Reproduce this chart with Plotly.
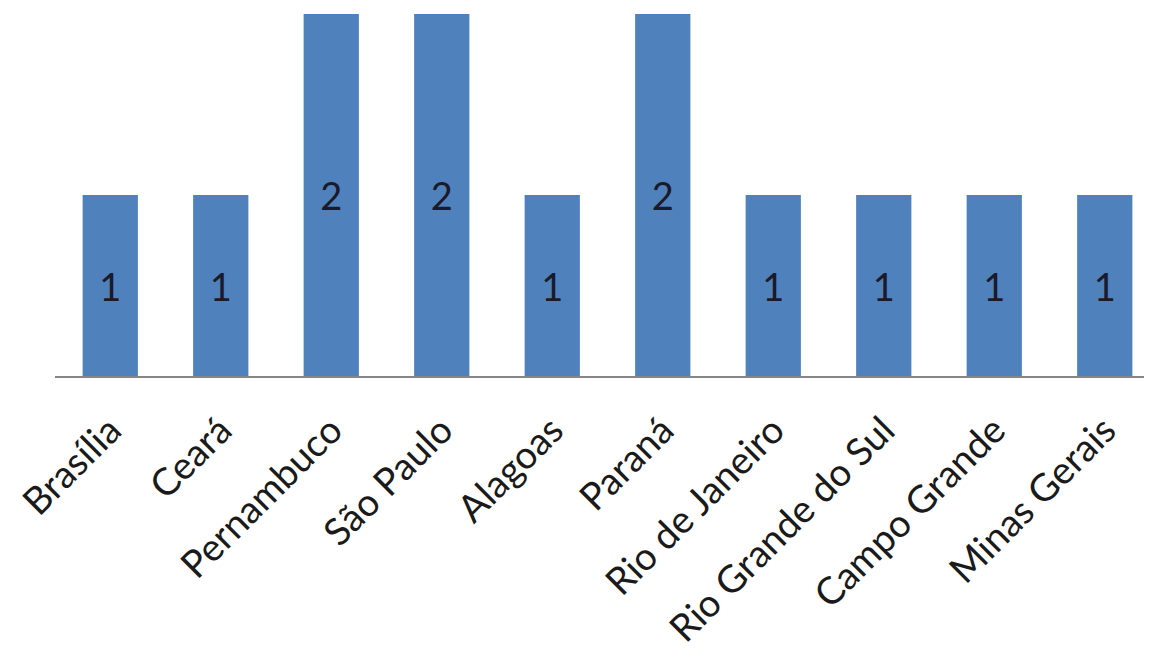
import plotly.graph_objects as go

categories = ["Brasília", "Ceará", "Pernambuco", "São Paulo", "Alagoas", "Paraná",
              "Rio de Janeiro", "Rio Grande do Sul", "Campo Grande", "Minas Gerais"]
values = [1, 1, 2, 2, 1, 2, 1, 1, 1, 1]

fig = go.Figure(go.Bar(
    x=categories, y=values,
    text=[str(v) for v in values],
    textposition="inside", insidetextanchor="middle",
    textfont=dict(family="Lato", size=38, color="#1a1a2a"),
    marker=dict(color="#4F81BD", line=dict(width=0)),
    cliponaxis=False,
))
fig.update_layout(
    width=1152, height=661,
    margin=dict(l=47, r=0, t=6, b=293, autoexpand=False),
    paper_bgcolor="white", plot_bgcolor="white",
    bargap=0.5, showlegend=False,
    xaxis=dict(tickangle=-45, tickfont=dict(family="Lato", size=38, color="#1a1a1a"),
               showline=True, linecolor="#868686", linewidth=1.5,
               ticks="outside", ticklen=15, tickcolor="rgba(0,0,0,0)", automargin=False),
    yaxis=dict(range=[0, 2], visible=False, showgrid=False, zeroline=False, automargin=False),
    uniformtext=dict(minsize=10, mode="show"),
)
fig.write_html("out.html")
